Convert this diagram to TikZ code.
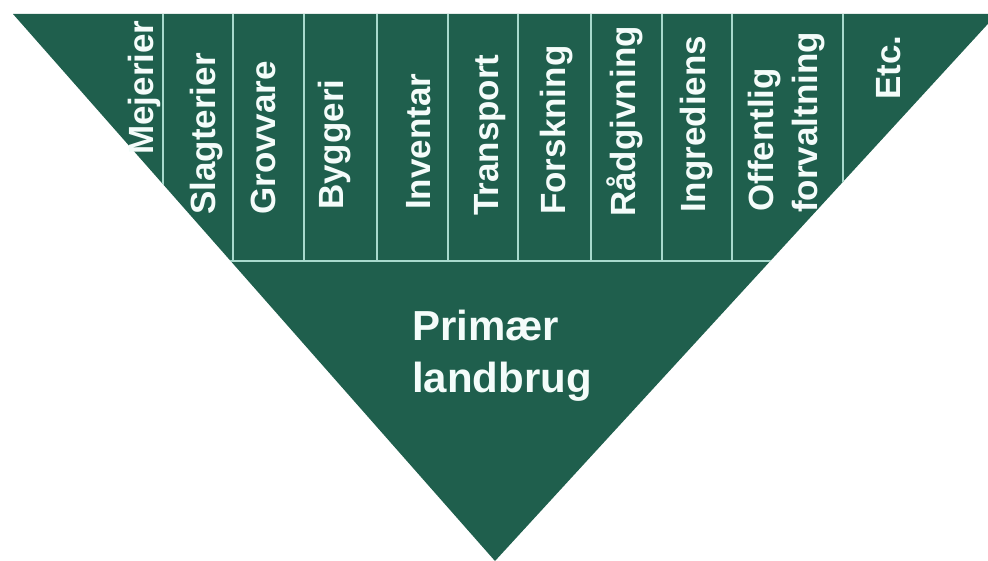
\documentclass[tikz,border=0pt]{standalone}
\usepackage{fontspec}
\setmainfont{Liberation Sans}
\definecolor{tgreen}{HTML}{1F5F4D}
\definecolor{tline}{HTML}{A8DACD}
\definecolor{ttext}{HTML}{F4FCFA}
\begin{document}
\begin{tikzpicture}[x=1pt,y=-1pt,
  coltext/.style={rotate=90, anchor=base west, inner sep=0pt, text=ttext,
    font=\fontsize{35}{40}\selectfont\bfseries},
  sepline/.style={draw=tline, line width=2.5pt},
  maintext/.style={align=left, inner sep=0pt, text=ttext,
    font=\fontsize{42}{52}\selectfont\bfseries}]
\useasboundingbox (0,0) rectangle (988,561);
\coordinate (TL) at (13,14);
\coordinate (TR) at (997,14);
\coordinate (AP) at (495,561);
\fill[tgreen] (TL) -- (TR) -- (AP) -- cycle;
\begin{scope}
  \clip (TL) -- (TR) -- (AP) -- cycle;
  \foreach \x [count=\i] in {163,233,304,377,448,518,591,662,732,843}
    \draw[sepline] (\x,14) coordinate (s\i) -- (\x,261) coordinate (e\i);
  \coordinate (hl) at (200,261);
  \coordinate (hr) at (800,261);
  \draw[sepline] (hl) -- (hr);
\end{scope}
\node[coltext] (c1) at (153,155) {Mejerier};
\node[coltext] (c2) at (215,215) {Slagterier};
\node[coltext] (c3) at (275,215) {Grovvare};
\node[coltext] (c4) at (343,210) {Byggeri};
\node[coltext] (c5) at (430,210) {Inventar};
\node[coltext] (c6) at (498,216) {Transport};
\node[coltext] (c7) at (565,215) {Forskning};
\node[coltext] (c8) at (635,217) {Rådgivning};
\node[coltext] (c9) at (705,213) {Ingrediens};
\node[coltext] (c10a) at (773,212) {Offentlig};
\node[coltext] (c10b) at (817,213) {forvaltning};
\node[coltext] (c11) at (900,100) {Etc.};
\node[maintext] (pl) at (502,356) {Primær\\landbrug};
\end{tikzpicture}
\end{document}
